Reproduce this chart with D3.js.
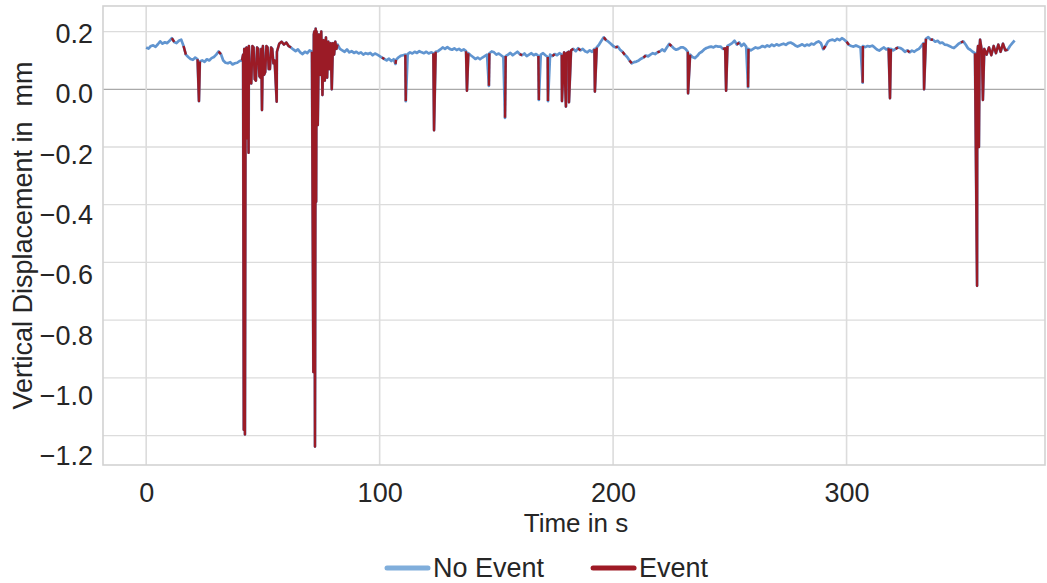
<!DOCTYPE html>
<meta charset="utf-8">
<script src="https://d3js.org/d3.v7.min.js"></script>
<style>
    body { margin: 0; background: #fff; }
    text { font-family: "Liberation Sans", Arial, sans-serif; fill: #262626; }
</style>
<div id="my_dataviz"></div>
<script>
    // displacement sampled once per second, t = 0 .. 372 s
    var baseline = [
        0.145, 0.141, 0.150, 0.152, 0.147, 0.156, 0.166, 0.158, 0.163, 0.160,
        0.168, 0.177, 0.164, 0.160, 0.168, 0.172, 0.150, 0.120, 0.112, 0.105,
        0.102, 0.110, 0.104, 0.096, 0.100, 0.095, 0.104, 0.100, 0.108, 0.112,
        0.120, 0.131, 0.122, 0.100, 0.092, 0.090, 0.094, 0.086, 0.090, 0.092,
        0.098, 0.100, 0.140, 0.145, 0.150, 0.020, 0.145, 0.030, 0.140, 0.040,
        0.150, 0.060, 0.145, 0.070, 0.140, 0.100, 0.130, 0.158, 0.165, 0.155,
        0.162, 0.150, 0.145, 0.138, 0.132, 0.138, 0.128, 0.122, 0.130, 0.125,
        0.135, 0.130, 0.200, 0.200, 0.190, 0.200, 0.170, 0.180, 0.165, 0.160,
        0.160, 0.165, 0.155, 0.140, 0.135, 0.130, 0.138, 0.128, 0.132, 0.126,
        0.130, 0.124, 0.128, 0.120, 0.125, 0.122, 0.126, 0.118, 0.124, 0.120,
        0.115, 0.110, 0.105, 0.100, 0.106, 0.098, 0.104, 0.102, 0.110, 0.116,
        0.118, 0.120, 0.122, 0.128, 0.124, 0.130, 0.126, 0.132, 0.128, 0.125,
        0.130, 0.124, 0.128, 0.125, 0.130, 0.132, 0.138, 0.145, 0.140, 0.146,
        0.140, 0.137, 0.142, 0.136, 0.140, 0.134, 0.138, 0.132, 0.125, 0.118,
        0.112, 0.105, 0.110, 0.104, 0.110, 0.115, 0.120, 0.125, 0.131, 0.128,
        0.120, 0.124, 0.118, 0.112, 0.115, 0.120, 0.126, 0.118, 0.124, 0.130,
        0.122, 0.118, 0.124, 0.115, 0.120, 0.125, 0.118, 0.122, 0.115, 0.120,
        0.125, 0.118, 0.112, 0.120, 0.115, 0.122, 0.118, 0.125, 0.120, 0.128,
        0.125, 0.130, 0.135, 0.140, 0.132, 0.142, 0.135, 0.140, 0.132, 0.128,
        0.135, 0.130, 0.140, 0.145, 0.155, 0.168, 0.180, 0.170, 0.165, 0.158,
        0.150, 0.145, 0.148, 0.137, 0.130, 0.120, 0.112, 0.100, 0.090, 0.094,
        0.096, 0.100, 0.106, 0.110, 0.117, 0.114, 0.120, 0.125, 0.122, 0.128,
        0.131, 0.138, 0.132, 0.145, 0.157, 0.150, 0.142, 0.137, 0.140, 0.145,
        0.145, 0.140, 0.130, 0.120, 0.112, 0.108, 0.115, 0.125, 0.130, 0.138,
        0.143, 0.146, 0.148, 0.145, 0.150, 0.148, 0.148, 0.140, 0.142, 0.150,
        0.155, 0.160, 0.168, 0.155, 0.162, 0.150, 0.158, 0.148, 0.140, 0.135,
        0.140, 0.145, 0.142, 0.145, 0.150, 0.146, 0.152, 0.148, 0.155, 0.150,
        0.156, 0.152, 0.155, 0.158, 0.154, 0.160, 0.162, 0.158, 0.152, 0.148,
        0.152, 0.156, 0.150, 0.155, 0.152, 0.158, 0.155, 0.162, 0.166, 0.160,
        0.139, 0.150, 0.165, 0.170, 0.172, 0.168, 0.175, 0.170, 0.177, 0.172,
        0.165, 0.154, 0.150, 0.148, 0.152, 0.148, 0.145, 0.150, 0.146, 0.150,
        0.148, 0.151, 0.145, 0.138, 0.134, 0.140, 0.145, 0.138, 0.142, 0.140,
        0.135, 0.140, 0.145, 0.143, 0.138, 0.130, 0.135, 0.128, 0.134, 0.130,
        0.136, 0.140, 0.150, 0.160, 0.175, 0.181, 0.172, 0.172, 0.165, 0.168,
        0.160, 0.162, 0.155, 0.154, 0.150, 0.146, 0.143, 0.150, 0.158, 0.162,
        0.166, 0.155, 0.142, 0.137, 0.130, 0.125, 0.120, 0.150, 0.130, 0.140,
        0.120, 0.145, 0.118, 0.150, 0.125, 0.155, 0.130, 0.158, 0.135, 0.137,
        0.150, 0.160, 0.169
    ];

    // extra samples between the seconds: the downward spikes  [time s, mm]
    var dips = [
        [22.6, -0.041],
        [41.5, 0.12], [41.8, -1.18], [42.3, -1.196], [42.6, 0.14], [43.3, -0.17], [43.6, 0.14], [43.85, -0.22],
        [44.5, 0.03], [45.5, 0.15], [46.5, 0.035], [47.5, 0.145], [48.5, 0.045], [49.3, 0.14], [49.6, -0.072],
        [50.5, 0.05], [51.5, 0.15], [52.5, 0.07], [53.5, 0.145], [54.5, 0.09], [55.9, -0.043],
        [71.6, -0.98], [71.8, 0.19], [72.3, -1.238], [72.6, 0.21], [72.8, -0.39], [73.5, -0.124], [74.5, 0.05],
        [75.5, -0.02], [76.5, 0.03], [77.5, 0.04], [78.5, 0.07], [79.5, 0.0], [80.5, 0.12], [81.5, 0.14],
        [106.8, 0.088], [111.2, -0.041], [123.3, -0.142], [137.4, -0.005], [146.8, 0.012], [153.7, -0.099],
        [168.2, -0.037], [172.1, -0.041], [178.1, -0.041], [179.8, -0.06], [181.1, -0.045], [192.2, -0.008],
        [232.1, -0.014], [248.4, -0.005], [257.8, 0.007], [306.9, 0.023], [318.6, -0.031], [333.2, 0.0],
        [355.9, -0.681], [356.3, 0.15], [356.7, -0.2], [357.2, 0.172], [358.4, -0.037]
    ];

    // time spans flagged as "Event"  [start s, end s]
    var eventSpans = [
        [11, 12], [16, 17], [22, 23.2], [31, 32], [41, 62], [71, 82.5], [100.5, 102], [106.5, 107.5],
        [110.7, 111.8], [122.8, 124], [137, 138], [146.3, 147.3], [153.2, 154.3], [160, 161], [167.6, 168.8],
        [171.6, 172.7], [174, 175.2], [177.5, 183], [185, 186], [191.6, 193], [195.5, 197], [200.5, 202],
        [204, 205.5], [207, 208.5], [213, 214.5], [219, 220.5], [224, 225], [231.5, 233], [246.5, 249],
        [253, 254.5], [257.2, 258.5], [289.5, 291], [300, 301], [306.4, 307.6], [318, 319.2], [321, 322],
        [326, 327], [332.6, 334.5], [336, 337], [349, 350], [354.5, 369.5]
    ];

    var xTicks = [0, 100, 200, 300];
    var yTicks = [0.2, 0.0, -0.2, -0.4, -0.6, -0.8, -1.0, -1.2];
    var seriesNames = ["No Event", "Event"];
    var seriesColors = ["#3a7bc4", "#9b1b26"];
    var legendColors = ["#80aedb", "#9e1a25"];

    // set the dimensions and margins of the graph
    var margin = { top: 6, right: 2, bottom: 118, left: 103 },
        width = 1047 - margin.left - margin.right,
        height = 583 - margin.top - margin.bottom;

    var root = d3.select("#my_dataviz")
        .append("svg")
        .attr("width", 1047)
        .attr("height", 583);

    var svg = root.append("g")
        .attr("transform", "translate(" + margin.left + "," + margin.top + ")");

    var x = d3.scaleLinear().domain([-18.5, 385]).range([0, width]);
    var y = d3.scaleLinear().domain([-1.302, 0.2886]).range([height, 0]);
    // the tick labels sit on a slightly stretched scale in the original
    var yLab = d3.scaleLinear().domain([0.2, -1.2]).range([28, 450.3]);

    // grid
    svg.append("g").selectAll("line")
        .data(yTicks)
        .enter().append("line")
        .attr("x1", 0).attr("x2", width)
        .attr("y1", function (d) { return y(d); })
        .attr("y2", function (d) { return y(d); })
        .attr("stroke", function (d) { return d === 0 ? "#a9a9a9" : "#dcdcdc"; })
        .attr("stroke-width", 1.3);

    svg.append("g").selectAll("line")
        .data(xTicks)
        .enter().append("line")
        .attr("x1", function (d) { return x(d); })
        .attr("x2", function (d) { return x(d); })
        .attr("y1", 0).attr("y2", height)
        .attr("stroke", "#dcdcdc")
        .attr("stroke-width", 1.6);

    svg.append("rect")
        .attr("width", width).attr("height", height)
        .attr("fill", "none")
        .attr("stroke", "#d2d2d2")
        .attr("stroke-width", 1.6);

    // axes (labels only)
    var xAxis = svg.append("g")
        .attr("transform", "translate(0," + height + ")")
        .call(d3.axisBottom(x).tickValues(xTicks).tickSize(0).tickPadding(18).tickFormat(d3.format("d")));
    xAxis.select(".domain").remove();
    xAxis.selectAll("text").style("font-size", "27px");

    var yAxis = svg.append("g")
        .call(d3.axisLeft(yLab).tickValues(yTicks).tickSize(0).tickPadding(10).tickFormat(d3.format(".1f")));
    yAxis.select(".domain").remove();
    yAxis.selectAll("text").style("font-size", "27px");

    // axis titles
    root.append("text")
        .attr("text-anchor", "middle")
        .attr("x", 576).attr("y", 532)
        .style("font-size", "26px")
        .text("Time in s");

    root.append("text")
        .attr("text-anchor", "middle")
        .attr("transform", "translate(32," + (margin.top + height / 2) + ") rotate(-90)")
        .style("font-size", "27px")
        .style("white-space", "pre")
        .text("Vertical Displacement in  mm");

    // series
    var samples = baseline.map(function (v, i) { return [i, v]; })
        .concat(dips)
        .sort(function (a, b) { return a[0] - b[0]; });

    root.append("clipPath").attr("id", "plotClip")
        .append("rect").attr("width", width).attr("height", height);

    var line = d3.line()
        .x(function (d) { return x(d[0]); })
        .y(function (d) { return y(d[1]); });

    var plot = svg.append("g").attr("clip-path", "url(#plotClip)");

    plot.append("path")
        .datum(samples)
        .attr("d", line)
        .attr("fill", "none")
        .attr("stroke", seriesColors[0])
        .attr("stroke-opacity", 0.8)
        .attr("stroke-width", 2.7)
        .attr("stroke-linejoin", "round");

    plot.selectAll(".event")
        .data(eventSpans)
        .enter().append("path")
        .attr("class", "event")
        .attr("d", function (s) {
            return line(samples.filter(function (d) { return d[0] >= s[0] && d[0] <= s[1]; }));
        })
        .attr("fill", "none")
        .attr("stroke", seriesColors[1])
        .attr("stroke-width", 2.4)
        .attr("stroke-linejoin", "round");

    // legend
    var legend = root.append("g");
    var lx = 387;
    seriesNames.forEach(function (name, i) {
        legend.append("line")
            .attr("x1", lx).attr("x2", lx + 41)
            .attr("y1", 568).attr("y2", 568)
            .attr("stroke", legendColors[i])
            .attr("stroke-width", 5)
            .attr("stroke-linecap", "round");
        var t = legend.append("text")
            .attr("x", lx + 46).attr("y", 577)
            .style("font-size", "27px")
            .text(name);
        lx += 46 + t.node().getComputedTextLength() + 49;
    });
</script>
